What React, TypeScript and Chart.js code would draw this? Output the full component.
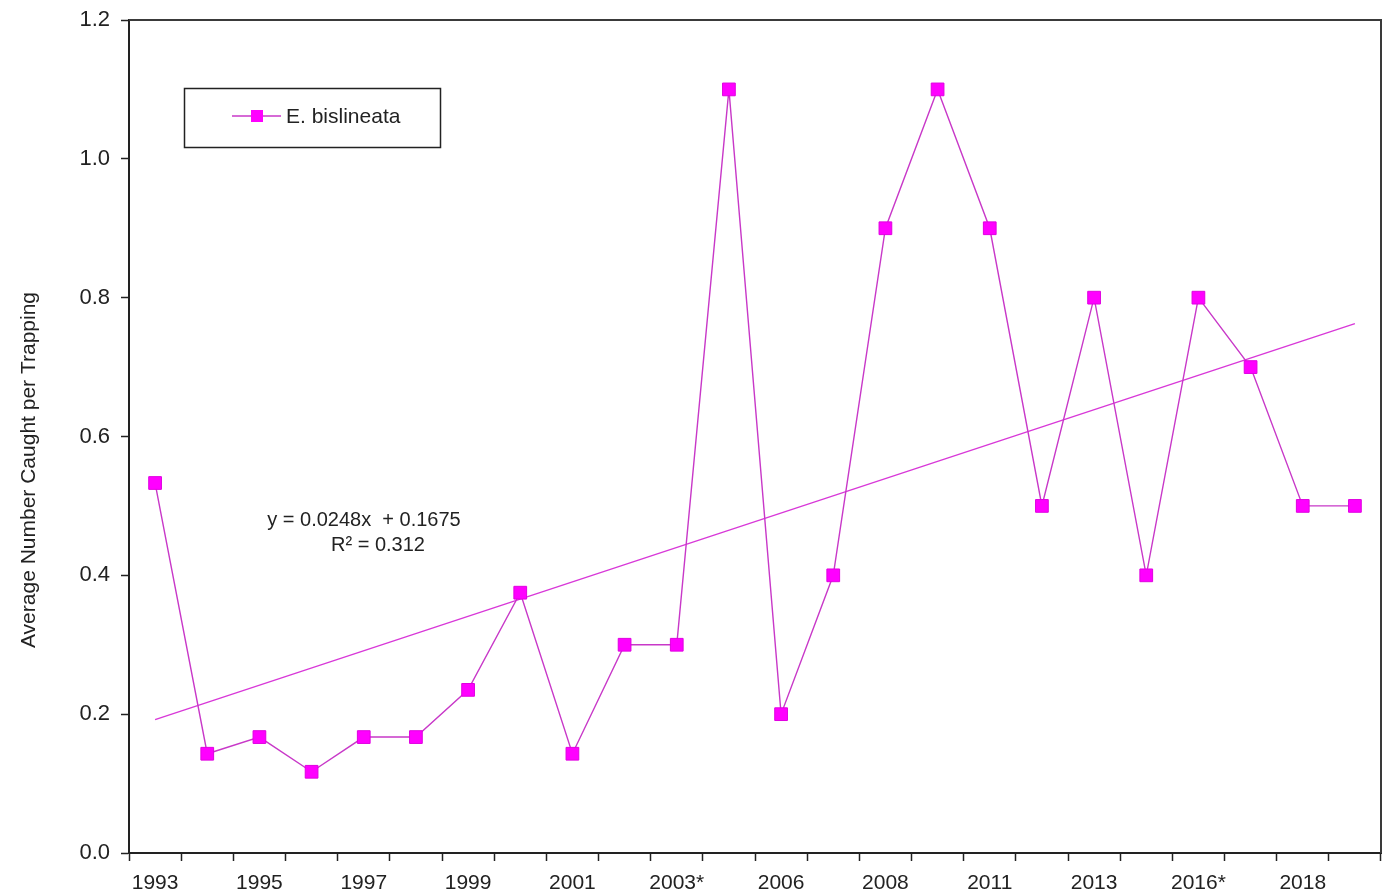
import React, { useEffect, useRef } from "react";
import { Chart, registerables } from "chart.js";

Chart.register(...registerables);

const categories = [
  "1993", "1994", "1995", "1996", "1997", "1998", "1999", "2000", "2001", "2002",
  "2003*", "2005", "2006", "2007", "2008", "2010", "2011", "2012", "2013", "2014",
  "2016*", "2017", "2018", "2019",
];
const seriesLabel = "E. bislineata";
const seriesValues = [
  0.533, 0.143, 0.167, 0.117, 0.167, 0.167, 0.235, 0.375, 0.143, 0.3,
  0.3, 1.1, 0.2, 0.4, 0.9, 1.1, 0.9, 0.5, 0.8, 0.4,
  0.8, 0.7, 0.5, 0.5,
];
// Regression line endpoints (first and last category)
const trendValues: (number | null)[] = categories.map((_, i) =>
  i === 0 ? 0.1923 : i === categories.length - 1 ? 0.7627 : null
);
const yTicks = [0, 0.2, 0.4, 0.6, 0.8, 1.0, 1.2];
const equationLines = ["y = 0.0248x  + 0.1675", "R² = 0.312"];
const yTitle = "Average Number Caught per Trapping";

const FONT = "'Liberation Sans', Arial, sans-serif";
const TEXT = "#222222";

export default function App() {
  const ref = useRef<HTMLCanvasElement | null>(null);

  useEffect(() => {
    document.body.style.margin = "0";
    const canvas = ref.current;
    if (!canvas) return;

    const decor = {
      id: "decor",
      afterDraw(chart: any) {
        const ctx = chart.ctx;
        const a = chart.chartArea;
        ctx.save();
        // frame top and right
        ctx.strokeStyle = "#3a3a3a";
        ctx.lineWidth = 2;
        ctx.beginPath();
        ctx.moveTo(a.left, a.top);
        ctx.lineTo(a.right, a.top);
        ctx.lineTo(a.right, a.bottom);
        ctx.stroke();

        // legend box
        ctx.lineWidth = 1.5;
        ctx.strokeStyle = "#222";
        ctx.strokeRect(184.5, 88.5, 256, 59);
        ctx.strokeStyle = "#c838c8";
        ctx.lineWidth = 1.3;
        ctx.beginPath();
        ctx.moveTo(232, 116);
        ctx.lineTo(281, 116);
        ctx.stroke();
        ctx.fillStyle = "#ff00ff";
        ctx.fillRect(251, 110, 12, 12);
        ctx.fillStyle = TEXT;
        ctx.font = `21px ${FONT}`;
        ctx.textAlign = "left";
        ctx.textBaseline = "middle";
        ctx.fillText(seriesLabel, 286, 117);

        // equation
        ctx.textAlign = "center";
        ctx.font = `20px ${FONT}`;
        ctx.fillText(equationLines[0], 364, 520);
        ctx.fillText(equationLines[1], 378, 545);

        // y title
        ctx.translate(29.5, 470);
        ctx.rotate(-Math.PI / 2);
        ctx.font = `21px ${FONT}`;
        ctx.textAlign = "center";
        ctx.textBaseline = "middle";
        ctx.fillText(yTitle, 0, 0);
        ctx.restore();
      },
    };

    const chart = new Chart(canvas, {
      type: "line",
      data: {
        labels: categories,
        datasets: [
          {
            label: seriesLabel,
            data: seriesValues,
            borderColor: "#c838c8",
            borderWidth: 1.4,
            pointStyle: "rect",
            pointRadius: 9,
            pointBackgroundColor: "#ff00ff",
            pointBorderColor: "#e000e0",
            pointBorderWidth: 1,
            tension: 0,
            fill: false,
          },
          {
            label: "trend",
            data: trendValues,
            spanGaps: true,
            borderColor: "#d838d8",
            borderWidth: 1.3,
            pointRadius: 0,
            tension: 0,
            fill: false,
          },
        ],
      },
      options: {
        animation: false,
        responsive: true,
        maintainAspectRatio: false,
        events: [],
        layout: { autoPadding: false, padding: { top: 20, right: 2, left: 0, bottom: 0 } },
        plugins: {
          legend: { display: false },
          tooltip: { enabled: false },
          title: { display: false },
        },
        scales: {
          x: {
            type: "category",
            offset: true,
            grid: {
              offset: true,
              drawOnChartArea: false,
              drawTicks: true,
              tickLength: 8,
              tickColor: "#222",
              tickWidth: 1.5,
            },
            border: { display: true, color: "#222", width: 2 },
            ticks: {
              autoSkip: false,
              maxRotation: 0,
              minRotation: 0,
              color: TEXT,
              padding: 10,
              font: { family: FONT, size: 21 },
              callback: (_v: any, i: number) => (i % 2 === 0 ? categories[i] : ""),
            },
            afterFit: (s: any) => {
              s.height = 42;
              s.paddingLeft = 0;
              s.paddingRight = 0;
            },
          },
          y: {
            min: 0,
            max: 1.2,
            afterBuildTicks: (s: any) => {
              s.ticks = yTicks.map((v) => ({ value: v }));
            },
            grid: {
              drawOnChartArea: false,
              drawTicks: true,
              tickLength: 8,
              tickColor: "#222",
              tickWidth: 1.5,
            },
            border: { display: true, color: "#222", width: 2 },
            ticks: {
              color: TEXT,
              padding: 11,
              font: { family: FONT, size: 22 },
              callback: (v: any) => Number(v).toFixed(1),
            },
            afterFit: (s: any) => {
              s.width = 129;
              s.paddingTop = 0;
              s.paddingBottom = 0;
            },
          },
        },
      },
      plugins: [decor],
    });

    return () => chart.destroy();
  }, []);

  return (
    <div style={{ width: 1383, height: 895, position: "relative" }}>
      <canvas ref={ref} />
    </div>
  );
}
